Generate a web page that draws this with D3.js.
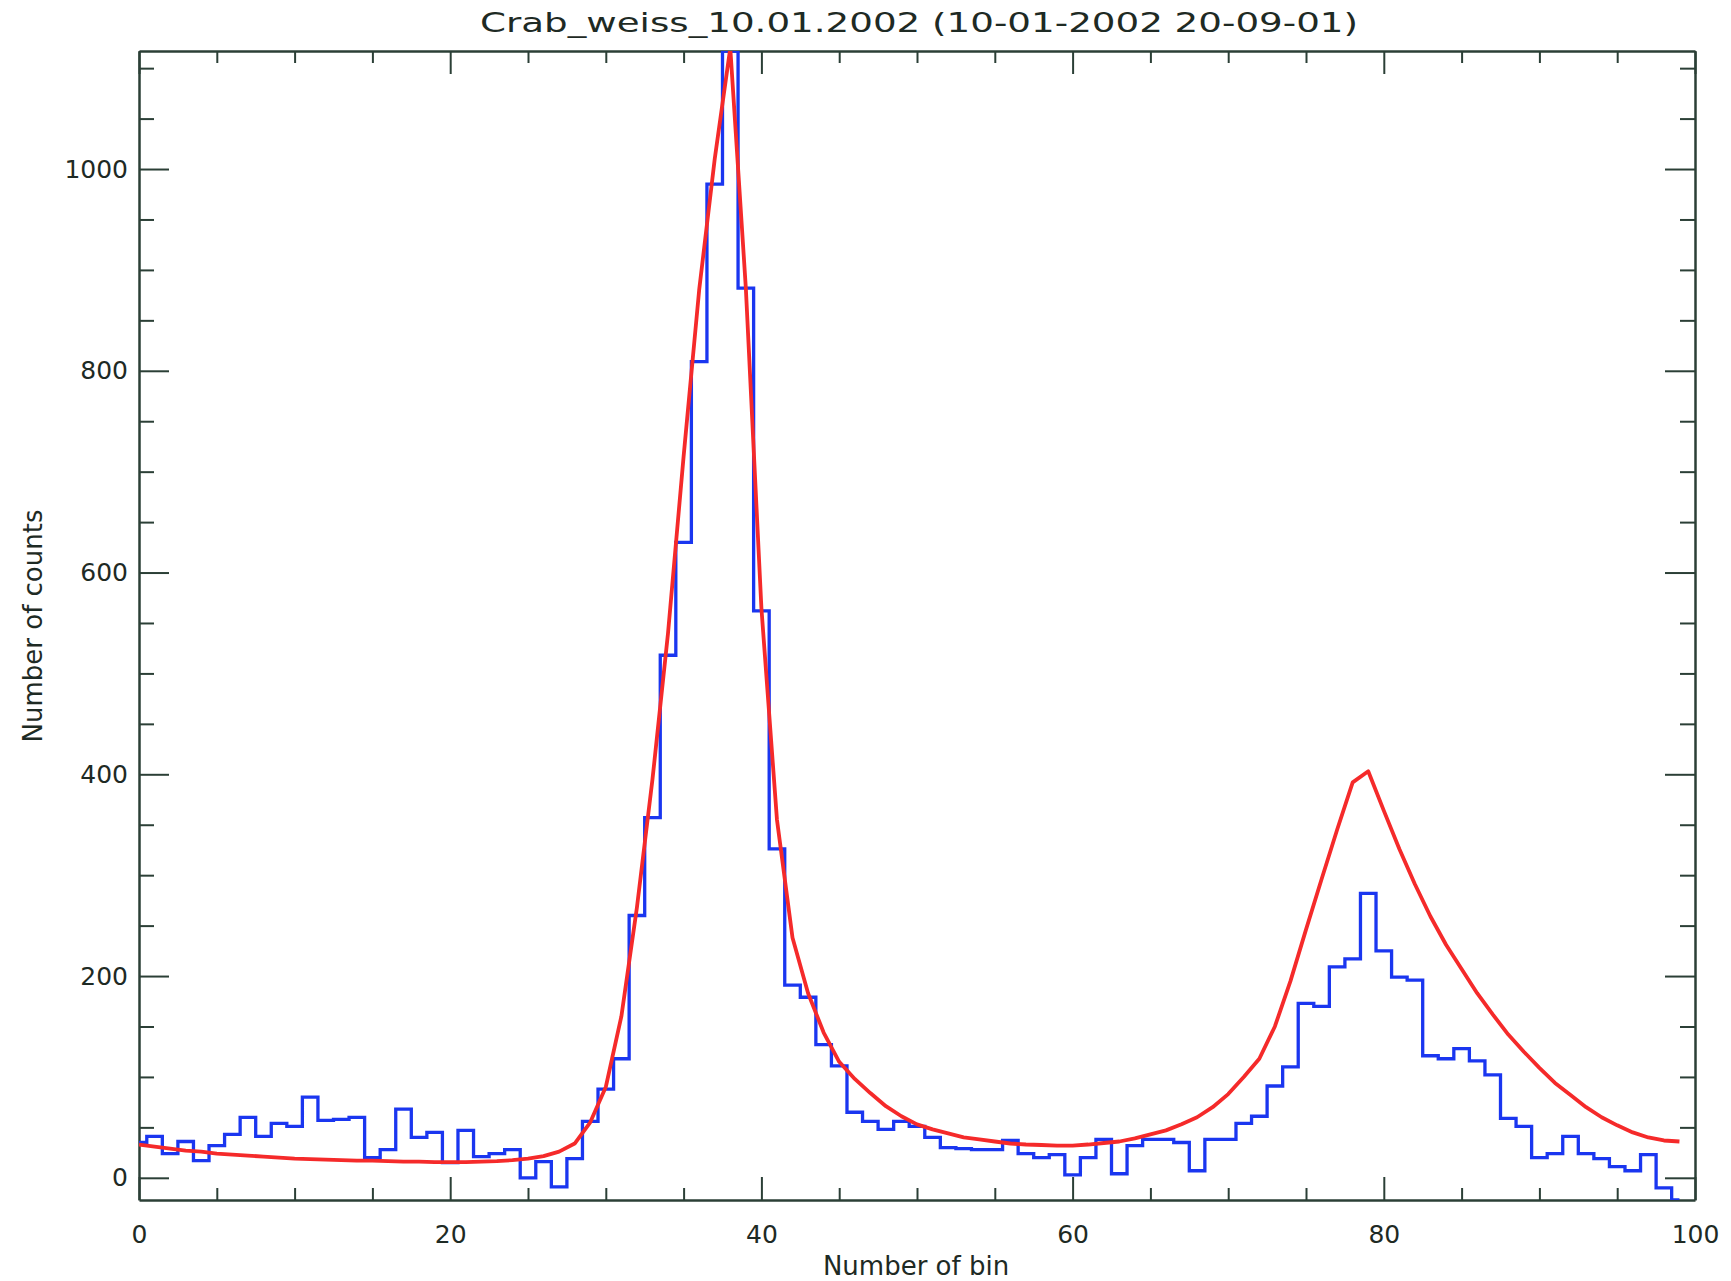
<!DOCTYPE html>
<html>
<head>
<meta charset="utf-8">
<script src="https://cdn.jsdelivr.net/npm/d3@7"></script>
<style>
  body { margin: 0; background: #fff; }
  svg { display: block; }
  .tick text { font-family: "DejaVu Sans", sans-serif; font-size: 25px; fill: #1e2a24; }
  .label { font-family: "DejaVu Sans", sans-serif; font-size: 26px; fill: #1e2a24; }
</style>
</head>
<body>
<svg width="1731" height="1281"></svg>
<script>
const title = "Crab_weiss_10.01.2002 (10-01-2002 20-09-01)";
const xTitle = "Number of bin";
const yTitle = "Number of counts";

// measured counts per bin (blue histogram)
const counts = [
  35, 41, 24, 36, 17, 32, 43, 60, 41, 54,
  51, 80, 57, 58, 60, 20, 28, 68, 40, 45,
  15, 47, 21, 24, 28, 0, 16, -9, 19, 56,
  88, 118, 260, 357, 518, 630, 809, 985, 1117, 882,
  562, 326, 191, 179, 132, 111, 65, 56, 48, 56,
  51, 40, 30, 29, 28, 28, 37, 24, 20, 23,
  3, 20, 38, 4, 32, 38, 38, 35, 7, 38,
  38, 54, 61, 91, 110, 173, 170, 209, 217, 282,
  225, 199, 196, 121, 118, 128, 116, 102, 59, 51,
  20, 24, 41, 24, 19, 11, 7, 23, -10, -22
];

// fitted model (red curve)
const fitCounts = [
  33, 31, 29, 27, 26, 24, 23, 22, 21, 20,
  19, 18.5, 18, 17.5, 17, 17, 16.5, 16, 16, 15.5,
  15.5, 15.5, 16, 16.5, 17.5, 19, 21.5, 26, 34, 55,
  90, 160, 268, 395, 540, 715, 880, 1010, 1120, 882,
  565, 355, 238, 183, 144, 115, 98, 84, 71, 61,
  53, 48, 44, 40, 38, 36, 34, 33, 32.5, 32,
  32, 33, 34.5, 36, 39, 43, 47, 53, 60, 70,
  83, 100, 118, 150, 195, 246, 296, 345, 392, 403,
  364, 326, 291, 259, 231, 207, 183, 162, 142, 125,
  109, 94, 82, 70, 60, 52, 45, 40, 37, 36
];

const xMajorTicks = [0, 20, 40, 60, 80, 100];
const yMajorTicks = [0, 200, 400, 600, 800, 1000];
const xDomain = [0, 100];
const yDomain = [-22, 1117];

const svg = d3.select("svg");
const margin = { top: 51, right: 36, bottom: 81, left: 139 };
const width = +svg.attr("width") - margin.left - margin.right;
const height = +svg.attr("height") - margin.top - margin.bottom;
const axisColor = "#2b3f36";

const g = svg.append("g").attr("transform", `translate(${margin.left},${margin.top})`);

svg.append("defs").append("clipPath")
  .attr("id", "clip")
  .append("rect")
  .attr("width", width)
  .attr("height", height);

const x = d3.scaleLinear().domain(xDomain).range([0, width]);
const y = d3.scaleLinear().domain(yDomain).range([height, 0]);

const xMinor = d3.range(0, 101, 5).filter(v => !xMajorTicks.includes(v));
const yMinor = d3.range(0, 1101, 50).filter(v => !yMajorTicks.includes(v));

function styleAxis(sel, showDomain) {
  sel.selectAll("line").attr("stroke", axisColor).attr("stroke-width", 2);
  sel.select(".domain").attr("stroke", axisColor).attr("stroke-width", 2.5);
  if (!showDomain) sel.select(".domain").remove();
}

// bottom
g.append("g").attr("transform", `translate(0,${height})`)
  .call(d3.axisBottom(x).tickValues(xMajorTicks).tickSize(-23).tickSizeOuter(0).tickPadding(25).tickFormat(d3.format("d")))
  .call(s => styleAxis(s, true));
g.append("g").attr("transform", `translate(0,${height})`)
  .call(d3.axisBottom(x).tickValues(xMinor).tickSize(-12).tickFormat(""))
  .call(s => styleAxis(s, false));

// top
g.append("g")
  .call(d3.axisTop(x).tickValues(xMajorTicks).tickSize(-23).tickSizeOuter(0).tickFormat(""))
  .call(s => styleAxis(s, true));
g.append("g")
  .call(d3.axisTop(x).tickValues(xMinor).tickSize(-12).tickFormat(""))
  .call(s => styleAxis(s, false));

// left
g.append("g")
  .call(d3.axisLeft(y).tickValues(yMajorTicks).tickSize(-30).tickSizeOuter(0).tickPadding(11).tickFormat(d3.format("d")))
  .call(s => styleAxis(s, true));
g.append("g")
  .call(d3.axisLeft(y).tickValues(yMinor).tickSize(-15).tickFormat(""))
  .call(s => styleAxis(s, false));

// right
g.append("g").attr("transform", `translate(${width},0)`)
  .call(d3.axisRight(y).tickValues(yMajorTicks).tickSize(-30).tickSizeOuter(0).tickFormat(""))
  .call(s => styleAxis(s, true));
g.append("g").attr("transform", `translate(${width},0)`)
  .call(d3.axisRight(y).tickValues(yMinor).tickSize(-15).tickFormat(""))
  .call(s => styleAxis(s, false));

const chartArea = g.append("g").attr("clip-path", "url(#clip)");

const bins = d3.range(counts.length);

const histLine = d3.line()
  .x(i => x(bins[i]))
  .y(i => y(counts[i]))
  .curve(d3.curveStep);

const fitLine = d3.line()
  .x(i => x(bins[i]))
  .y(i => y(fitCounts[i]));

chartArea.append("path")
  .datum(bins)
  .attr("fill", "none")
  .attr("stroke", "#1a36f0")
  .attr("stroke-width", 3.3)
  .attr("stroke-linejoin", "miter")
  .attr("d", histLine);

chartArea.append("path")
  .datum(bins)
  .attr("fill", "none")
  .attr("stroke", "#f52a2a")
  .attr("stroke-width", 3.8)
  .attr("stroke-linejoin", "round")
  .attr("d", fitLine);

svg.append("text")
  .attr("class", "label")
  .attr("x", margin.left + width / 2 + 2)
  .attr("y", 32)
  .attr("text-anchor", "middle")
  .style("font-size", "27px")
  .attr("textLength", 878)
  .attr("lengthAdjust", "spacingAndGlyphs")
  .text(title);

g.append("text")
  .attr("class", "label")
  .attr("x", width / 2 - 1)
  .attr("y", height + 75)
  .attr("text-anchor", "middle")
  .text(xTitle);

g.append("text")
  .attr("class", "label")
  .attr("transform", "rotate(-90)")
  .attr("x", -(626 - margin.top))
  .attr("y", 42 - margin.left)
  .attr("text-anchor", "middle")
  .text(yTitle);
</script>
</body>
</html>
